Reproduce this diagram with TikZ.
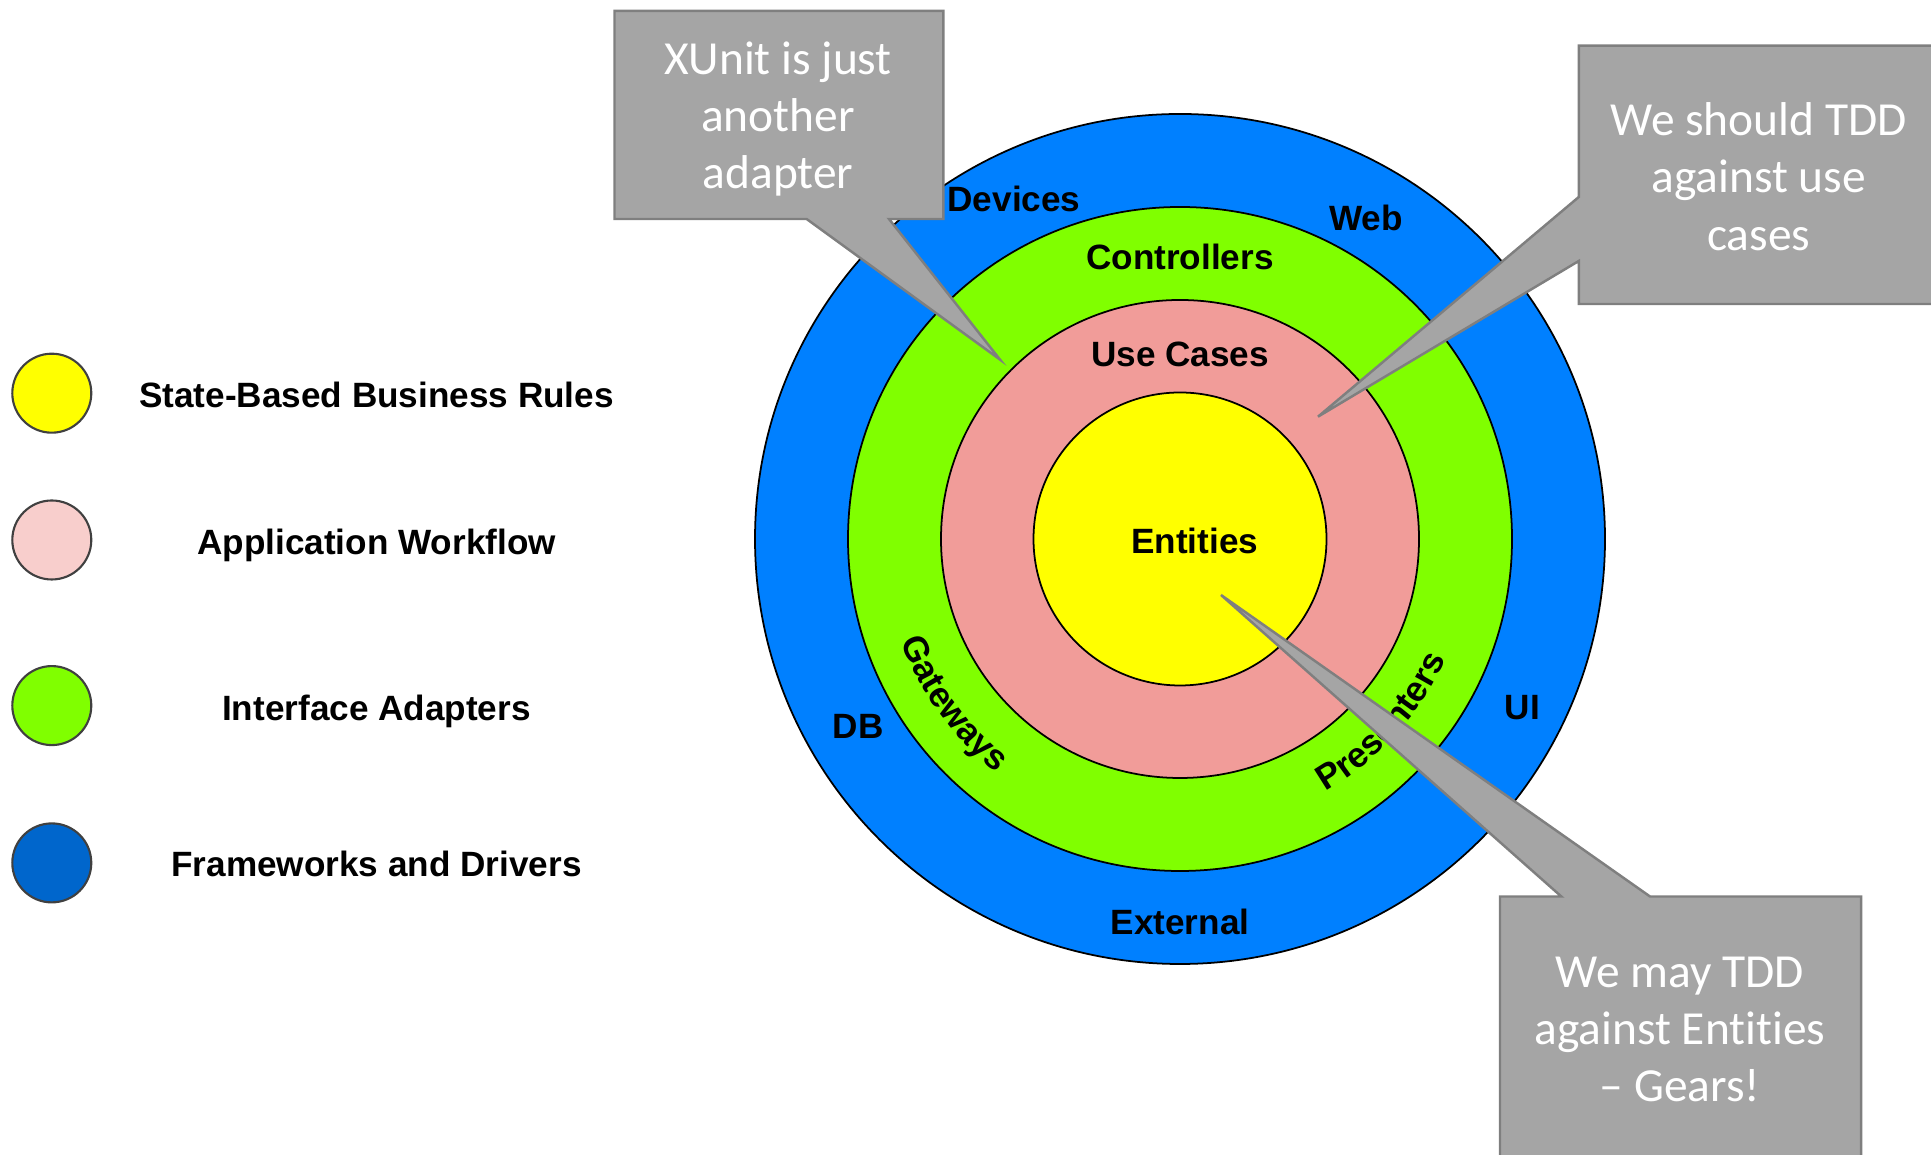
\documentclass[tikz,border=0pt]{standalone}
\usepackage{fontspec}
\setmainfont{Liberation Sans}
\newfontfamily\calfont[Ligatures=NoCommon]{Carlito}
\usepackage{xcolor}
\usetikzlibrary{decorations.text}

\definecolor{bandblue}{HTML}{0080FF}
\definecolor{bandgreen}{HTML}{80FF00}
\definecolor{bandpink}{HTML}{F19C99}
\definecolor{coreyellow}{HTML}{FFFF00}
\definecolor{keypink}{HTML}{F8CECC}
\definecolor{keyblue}{HTML}{0066CC}
\definecolor{notegrey}{HTML}{A5A5A5}
\definecolor{noteedge}{HTML}{7F7F7F}

\tikzset{
    ring/.style={draw=black, line width=0.5pt},
    keydot/.style={circle, draw=black!75, line width=0.6pt, minimum size=0.79cm, inner sep=0pt},
    lbl/.style={font=\bfseries, anchor=base, inner sep=0pt},
    bubble/.style={fill=notegrey, draw=noteedge, line width=0.7pt, line join=miter},
    bubbletext/.style={text=white, align=center, font=\calfont\fontsize{13.5}{16.3}\selectfont}
}

\begin{document}
\begin{tikzpicture}
                \useasboundingbox (0,0) rectangle (19.31,11.55);
                \coordinate (o) at (11.80,6.16);
                % the four rings
                \draw [ring, fill=bandblue] (o) circle (4.25);
                \draw [ring, fill=bandgreen] (o) circle (3.32);
                \draw [ring, fill=bandpink] (o) circle (2.39);
                \draw [ring, fill=coreyellow] (o) circle (1.465);
                % ring labels
                \node [lbl] (devices) at (10.14,9.433) {Devices};
                \node [lbl] (web) at (13.66,9.24) {Web};
                \node [lbl] (ctrl) at (11.80,8.85) {Controllers};
                \node [lbl] (usecases) at (11.80,7.883) {Use Cases};
                \node [lbl] (entities) at (11.948,6.017) {Entities};
                \node [lbl] (db) at (8.583,4.167) {DB};
                \node [lbl] (ui) at (15.223,4.357) {UI};
                \node [lbl] (external) at (11.80,2.20) {External};
                \path [decorate, decoration={text along path, text align=center, text={|\bfseries|Gateways}}]
                    ([shift={(180:2.97)}]o) arc [start angle=180, end angle=252, radius=2.97];
                \path [decorate, decoration={text along path, text align=center, text={|\bfseries|Presenters}}]
                    ([shift={(282:2.915)}]o) arc [start angle=282, end angle=353.6, radius=2.915];
                % legend
                \node [keydot, fill=coreyellow] (k1) at (0.518,7.618) {};
                \node [keydot, fill=keypink] (k2) at (0.518,6.15) {};
                \node [keydot, fill=bandgreen] (k3) at (0.518,4.494) {};
                \node [keydot, fill=keyblue] (k4) at (0.518,2.921) {};
                \node [lbl] (t1) at (3.765,7.47) {State-Based Business Rules};
                \node [lbl] (t2) at (3.765,6.00) {Application Workflow};
                \node [lbl] (t3) at (3.765,4.34) {Interface Adapters};
                \node [lbl] (t4) at (3.765,2.78) {Frameworks and Drivers};
                % callouts
                \coordinate (tipA) at (10.00,7.954);
                \coordinate (tipB) at (13.18,7.383);
                \coordinate (tipC) at (12.21,5.60);
                \draw [bubble] (6.145,11.44) -- (9.433,11.44) -- (9.433,9.36) -- (8.89,9.36) -- (tipA)
                    -- (8.066,9.36) -- (6.145,9.36) -- cycle;
                \draw [bubble] (15.788,11.094) -- (19.45,11.094) -- (19.45,8.51) -- (15.788,8.51)
                    -- (15.788,8.94) -- (tipB) -- (15.788,9.58) -- cycle;
                \draw [bubble] (15.00,2.585) -- (15.613,2.585) -- (tipC) -- (16.50,2.585) -- (18.61,2.585)
                    -- (18.61,-0.3) -- (15.00,-0.3) -- cycle;
                \node [bubbletext] (noteA) at (7.78,10.36) {XUnit is just\\another\\adapter};
                \node [bubbletext] (noteB) at (17.587,9.783) {We should TDD\\against use\\cases};
                \node [bubbletext] (noteC) at (16.80,1.255) {We may TDD\\against Entities\\– Gears!};
            \end{tikzpicture}
\end{document}
